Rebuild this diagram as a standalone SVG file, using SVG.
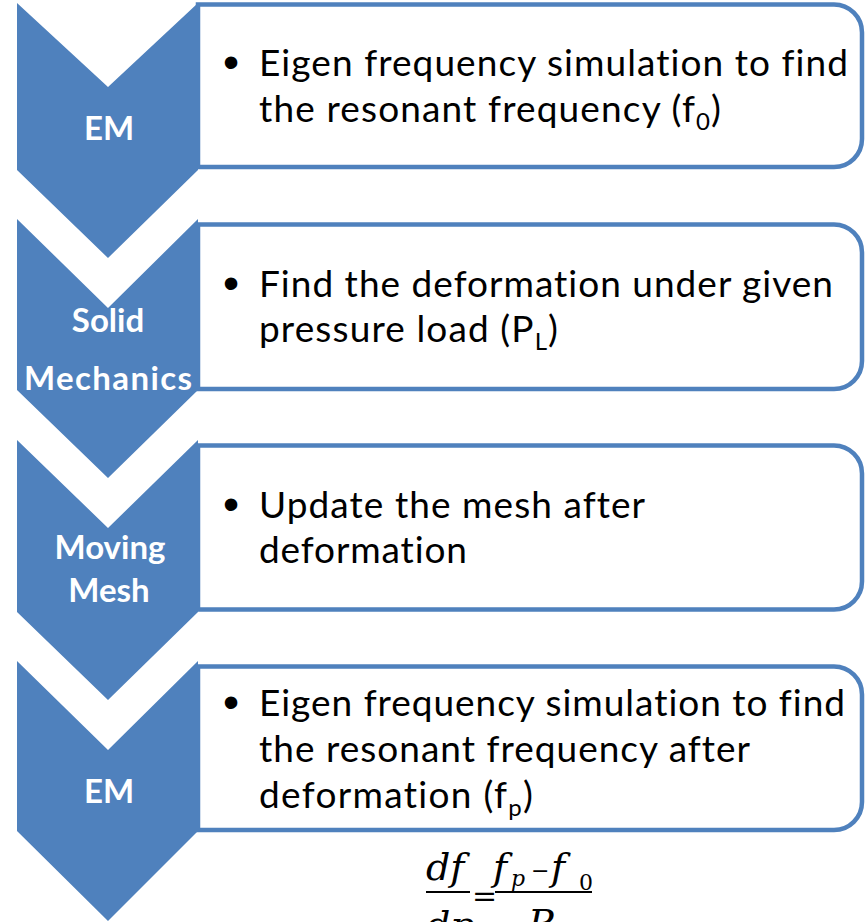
<svg xmlns="http://www.w3.org/2000/svg" width="865" height="922" viewBox="0 0 865 922">
<style>
.chev{fill:#4F81BD}
.box{fill:#FFFFFF;stroke:#4F81BD;stroke-width:4.5}
.lbl{font-family:Lato,"Open Sans",sans-serif;font-weight:bold;font-size:33px;fill:#FFFFFF;text-anchor:middle;font-variant-ligatures:none}
.body{font-family:Lato,"Open Sans",sans-serif;font-size:37px;fill:#000000;font-variant-ligatures:none}
.bul{font-family:"Liberation Sans",sans-serif;font-size:46px;fill:#000000;text-anchor:middle}
.sub{font-size:24px}
.math{font-family:"DejaVu Serif",serif;font-style:italic;font-size:38px;fill:#000000}
.msub{font-family:"DejaVu Serif",serif;font-style:italic;font-size:22px;fill:#000000}
.bar{stroke:#000000;stroke-width:2}
</style>
<rect x="0" y="0" width="865" height="922" fill="#FFFFFF"/>
<g id="connectors"/>
<g id="box1">
<path class="box" d="M198,4.5 H834 A28,28 0 0 1 862,32.5 V139 A28,28 0 0 1 834,167 H198 Z"/>
<text class="bul" x="231" y="78">•</text>
<text class="body" x="259" y="76" textLength="589">Eigen frequency simulation to find</text>
<text class="body" x="259" y="122" textLength="462">the resonant frequency (f<tspan class="sub" dy="8">0</tspan><tspan dy="-8">)</tspan></text>
</g>
<g id="box2">
<path class="box" d="M198,224.5 H834 A28,28 0 0 1 862,252.5 V361 A28,28 0 0 1 834,389 H198 Z"/>
<text class="bul" x="231" y="299">•</text>
<text class="body" x="259" y="297" textLength="574">Find the deformation under given</text>
<text class="body" x="259" y="342" textLength="299">pressure load (P<tspan class="sub" dy="8">L</tspan><tspan dy="-8">)</tspan></text>
</g>
<g id="box3">
<path class="box" d="M198,445.5 H834 A28,28 0 0 1 862,473.5 V581.5 A28,28 0 0 1 834,609.5 H198 Z"/>
<text class="bul" x="231" y="520">•</text>
<text class="body" x="259" y="518" textLength="386">Update the mesh after</text>
<text class="body" x="259" y="563" textLength="208">deformation</text>
</g>
<g id="box4">
<path class="box" d="M198,666.5 H834 A28,28 0 0 1 862,694.5 V802 A28,28 0 0 1 834,830 H198 Z"/>
<text class="bul" x="231" y="718">•</text>
<text class="body" x="259" y="716" textLength="586">Eigen frequency simulation to find</text>
<text class="body" x="259" y="762" textLength="491">the resonant frequency after</text>
<text class="body" x="259" y="808" textLength="274">deformation (f<tspan class="sub" dy="8">p</tspan><tspan dy="-8">)</tspan></text>
</g>
<g id="chevron1">
<polygon class="chev" points="17,3 108,87 198,3 198,170 108,258 17,170"/>
<text class="lbl" x="109" y="140">EM</text>
</g>
<g id="chevron2">
<polygon class="chev" points="17,219 108,308 198,219 198,390 108,478 17,390"/>
<text class="lbl" x="108" y="332">Solid</text>
<text class="lbl" x="108" y="390" textLength="168">Mechanics</text>
</g>
<g id="chevron3">
<polygon class="chev" points="17,440 108,528 198,440 198,612 108,700 17,612"/>
<text class="lbl" x="110" y="559">Moving</text>
<text class="lbl" x="109" y="602">Mesh</text>
</g>
<g id="chevron4">
<polygon class="chev" points="17,661 108,750 198,661 198,831 108,921 17,831"/>
<text class="lbl" x="109" y="803">EM</text>
</g>
<g id="formula">
<text class="math" x="426" y="880">df</text>
<line class="bar" x1="426" y1="892" x2="470" y2="892"/>
<text x="472" y="906" font-family="DejaVu Serif, serif" font-size="30">=</text>
<text class="math" x="493" y="880">f</text>
<text class="msub" x="511" y="886">p</text>
<text x="531" y="878" font-family="DejaVu Serif, serif" font-size="22">−</text>
<text class="math" x="551" y="880">f</text>
<text x="579" y="890" font-family="DejaVu Serif, serif" font-size="22">0</text>
<line class="bar" x1="495" y1="892" x2="592" y2="892"/>
<text class="math" x="426" y="938">dp</text>
<text class="math" x="528" y="936">P</text>
</g>
</svg>
